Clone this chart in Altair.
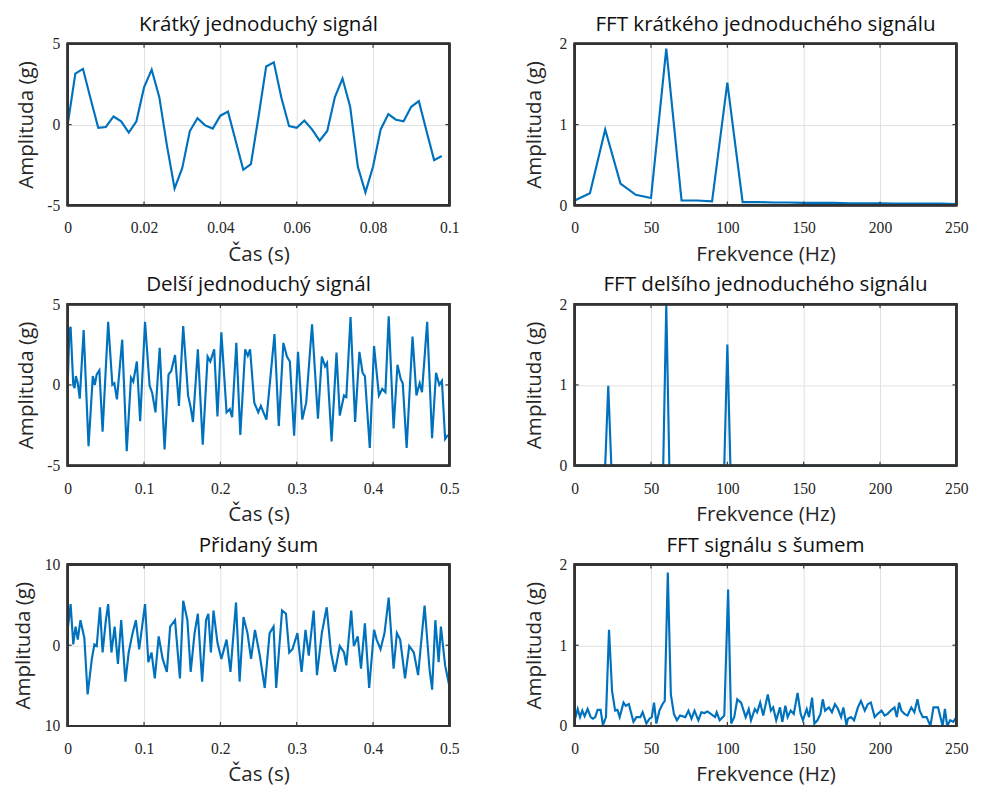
import altair as alt
import pandas as pd

# ---------- data ----------
# 1) short simple signal (0 .. 0.098 s, step 0.002 s)
t_short = [0.000, 0.002, 0.004, 0.006, 0.008, 0.010, 0.012, 0.014, 0.016, 0.018,
           0.020, 0.022, 0.024, 0.026, 0.028, 0.030, 0.032, 0.034, 0.036, 0.038,
           0.040, 0.042, 0.044, 0.046, 0.048, 0.050, 0.052, 0.054, 0.056, 0.058,
           0.060, 0.062, 0.064, 0.066, 0.068, 0.070, 0.072, 0.074, 0.076, 0.078,
           0.080, 0.082, 0.084, 0.086, 0.088, 0.090, 0.092, 0.094, 0.096, 0.098]
a_short = [0.0, 3.15, 3.45, 1.6, -0.2, -0.15, 0.5, 0.2, -0.5, 0.2,
           2.3, 3.4, 1.7, -1.3, -3.95, -2.7, -0.4, 0.4, -0.05, -0.25,
           0.55, 0.8, -1.0, -2.8, -2.45, 0.5, 3.6, 3.85, 1.65, -0.1,
           -0.2, 0.25, -0.3, -1.0, -0.4, 1.7, 2.85, 1.1, -2.6, -4.2,
           -2.6, -0.3, 0.65, 0.3, 0.2, 1.1, 1.45, -0.4, -2.2, -1.95]

# 2) FFT of the short signal (10 Hz bins)
f_short = [0, 10, 20, 30, 40, 50, 60, 70, 80, 90, 100, 110, 120, 130, 140, 150,
           160, 170, 180, 190, 200, 210, 220, 230, 240, 250]
m_short = [0.06, 0.15, 0.94, 0.27, 0.13, 0.09, 1.94, 0.06, 0.06, 0.05, 1.52, 0.04,
           0.04, 0.035, 0.035, 0.03, 0.03, 0.03, 0.025, 0.025, 0.025, 0.02, 0.02,
           0.02, 0.02, 0.015]

# 3) longer simple signal (vertices read off the trace)
t_long = [0.000, 0.0022, 0.0038, 0.0073, 0.0090, 0.0107, 0.0132, 0.0158, 0.0209, 0.0273,
          0.0329, 0.0355, 0.0380, 0.0415, 0.0457, 0.0530, 0.0585, 0.0611, 0.0645, 0.0714,
          0.0773, 0.0829, 0.0859, 0.0906, 0.0949, 0.1013, 0.1073, 0.1107, 0.1150, 0.1205,
          0.1269, 0.1321, 0.1355, 0.1406, 0.1457, 0.1513, 0.1577, 0.1611, 0.1641, 0.1705,
          0.1769, 0.1833, 0.1868, 0.1919, 0.1962, 0.2013, 0.2081, 0.2124, 0.2154, 0.2209,
          0.2261, 0.2325, 0.2359, 0.2389, 0.2444, 0.2496, 0.2530, 0.2603, 0.2709, 0.2765,
          0.2825, 0.2872, 0.2910, 0.2966, 0.3017, 0.3073, 0.3124, 0.3201, 0.3278, 0.3329,
          0.3372, 0.3397, 0.3457, 0.3521, 0.3564, 0.3620, 0.3650, 0.3705, 0.3765, 0.3821,
          0.3863, 0.3893, 0.3957, 0.4013, 0.4077, 0.4120, 0.4162, 0.4205, 0.4269, 0.4320,
          0.4363, 0.4389, 0.4440, 0.4517, 0.4568, 0.4611, 0.4641, 0.4709, 0.4773, 0.4825,
          0.4868, 0.4902, 0.4944, 0.4980]
a_long = [0.0, 3.4, 3.6, 0.0, -0.2, 0.55, 0.1, -0.85, 3.4, -3.8,
          0.55, 0.0, 0.65, 0.9, -2.9, 3.9, 0.0, 0.1, -0.9, 2.8,
          -4.1, 0.45, 0.2, 1.45, -2.25, 3.9, -0.05, -0.5, -1.7, 2.3,
          -4.0, 0.65, 0.85, 1.85, -1.3, 3.65, -0.65, -1.4, -2.3, 2.2,
          -3.7, 1.75, 1.45, 2.2, -1.95, 3.25, -1.7, -1.5, -2.0, 2.6,
          -3.1, 2.2, 1.8, 2.2, -1.1, -1.7, -1.3, -2.15, 3.15, -2.55,
          2.6, 1.75, 1.45, -3.15, 2.05, -2.15, -1.1, 3.75, -2.1, 1.75,
          1.15, 1.35, -3.5, 2.0, -1.9, -0.65, -0.75, 4.2, -2.3, 2.05,
          0.75, 0.55, -3.9, 2.4, -0.65, -0.25, -0.45, 4.25, -2.7, 1.25,
          0.35, 0.1, -3.9, 3.0, -0.65, 0.1, -0.45, 3.9, -3.3, 0.75,
          0.0, 0.25, -3.35, -3.1]

# 4) FFT of the longer signal (2 Hz bins, only non-zero neighbourhoods listed)
f_long = [0, 20, 22, 24, 58, 60, 62, 98, 100, 102, 250]
m_long = [0.0, 0.0, 0.99, 0.0, 0.0, 2.0, 0.0, 0.0, 1.5, 0.0, 0.0]

# 5) added noise (vertices read off the trace)
t_noise = [0.0000, 0.0038, 0.0073, 0.0103, 0.0132, 0.0167, 0.0218, 0.0261, 0.0316, 0.0350,
           0.0380, 0.0423, 0.0457, 0.0500, 0.0530, 0.0573, 0.0615, 0.0658, 0.0701, 0.0756,
           0.0799, 0.0850, 0.0893, 0.0936, 0.1013, 0.1056, 0.1098, 0.1141, 0.1192, 0.1244,
           0.1299, 0.1342, 0.1406, 0.1470, 0.1513, 0.1568, 0.1611, 0.1662, 0.1705, 0.1761,
           0.1812, 0.1842, 0.1876, 0.1910, 0.1962, 0.2013, 0.2081, 0.2132, 0.2205, 0.2252,
           0.2303, 0.2355, 0.2402, 0.2453, 0.2517, 0.2581, 0.2645, 0.2697, 0.2731, 0.2808,
           0.2859, 0.2902, 0.2944, 0.3009, 0.3064, 0.3115, 0.3158, 0.3222, 0.3265, 0.3329,
           0.3393, 0.3449, 0.3500, 0.3564, 0.3620, 0.3650, 0.3714, 0.3748, 0.3799, 0.3842,
           0.3893, 0.3949, 0.4013, 0.4047, 0.4098, 0.4150, 0.4205, 0.4269, 0.4312, 0.4355,
           0.4419, 0.4474, 0.4534, 0.4590, 0.4675, 0.4739, 0.4774, 0.4816, 0.4859, 0.4889,
           0.4944, 0.4996]
a_noise = [1.9, 5.1, 0.1, 2.3, 0.7, 3.1, 0.9, -6.1, -1.7, 0.1,
           -0.1, 4.7, -0.9, 3.1, 5.1, -0.9, 2.3, -2.3, 3.1, -4.5,
           -0.9, 1.5, 3.1, -0.5, 5.1, -2.1, -0.9, -4.1, 1.1, -1.7,
           -3.3, 2.3, 3.1, -4.1, 5.5, 3.1, -3.3, 1.5, 3.9, -4.5,
           3.1, 3.9, -0.9, 4.3, 0.3, -1.7, 0.7, -3.3, 5.3, -4.5,
           3.5, 1.5, -1.7, 1.9, -1.3, -5.3, 1.5, 2.3, -5.3, 4.3,
           3.9, -0.9, -0.5, 1.5, -3.3, 1.9, -1.3, 4.3, -3.7, 1.5,
           4.7, -0.9, -3.3, -0.1, -0.9, -2.5, 4.3, -0.1, 1.1, -2.9,
           2.7, -5.3, 1.9, 0.7, -0.5, 1.5, 5.9, -2.9, 1.5, 0.7,
           -4.1, -0.1, -0.9, -3.7, 4.9, -2.9, -5.5, 3.1, -2.1, 2.3,
           -2.5, -4.9]

# 6) FFT of the noisy signal
f_noise = [0, 2, 3.5, 5, 6.5, 8.5, 10.5, 12, 13.5, 15, 17, 18.5, 20.5, 22.5, 24.5, 26.5,
           28, 29.5, 32, 33.5, 35.5, 38.5, 40.5, 43, 44.5, 47, 49, 50.5, 52, 53.5, 55.5,
           57.5, 59, 61, 63, 65, 67, 69, 72.5, 74.5, 76.5, 78.5, 81, 83, 85, 87, 90.5,
           92, 93, 95, 98, 100.5, 102.5, 104.5, 106.5, 109, 112, 114, 115.5, 118, 119.5,
           121.5, 123.5, 126.5, 128.5, 130, 132, 134.5, 136, 138, 139.5, 141.5, 143.5,
           146, 148, 149.5, 152, 153.5, 155.5, 157, 159, 161, 162.5, 164, 166.5, 168.5,
           170.5, 172.5, 174.5, 176, 178, 179, 181, 183, 185.5, 187.5, 190, 192, 194,
           196.5, 198.5, 201, 203, 205, 207, 209.5, 211, 212.5, 214, 216, 218, 220.5,
           222.5, 224.5, 226, 228, 230.5, 233, 235, 238, 241, 242.5, 244, 246, 248, 250]
m_noise = [0.07, 0.21, 0.11, 0.19, 0.12, 0.21, 0.11, 0.09, 0.11, 0.2, 0.2, 0.01, 0.11,
           1.19, 0.43, 0.19, 0.2, 0.11, 0.29, 0.25, 0.27, 0.05, 0.11, 0.11, 0.17, 0.03,
           0.09, 0.11, 0.29, 0.03, 0.19, 0.27, 0.31, 1.9, 0.39, 0.15, 0.07, 0.13, 0.11,
           0.19, 0.09, 0.19, 0.07, 0.17, 0.16, 0.18, 0.13, 0.11, 0.17, 0.07, 0.13, 1.69,
           0.03, 0.11, 0.33, 0.29, 0.11, 0.21, 0.07, 0.21, 0.17, 0.29, 0.13, 0.39, 0.19,
           0.23, 0.07, 0.23, 0.05, 0.25, 0.11, 0.19, 0.15, 0.41, 0.15, 0.07, 0.21, 0.11,
           0.35, 0.03, 0.07, 0.15, 0.33, 0.19, 0.23, 0.17, 0.27, 0.21, 0.11, 0.23, 0.01,
           0.09, 0.11, 0.07, 0.23, 0.31, 0.19, 0.27, 0.29, 0.11, 0.15, 0.19, 0.13, 0.15,
           0.19, 0.23, 0.11, 0.29, 0.19, 0.15, 0.13, 0.23, 0.17, 0.33, 0.19, 0.11, 0.11,
           0.0, 0.23, 0.23, 0.0, 0.21, 0.0, 0.07, 0.05, 0.11]

# tick values
ticks_t_short = [0, 0.02, 0.04, 0.06, 0.08, 0.1]
ticks_t_long = [0, 0.1, 0.2, 0.3, 0.4, 0.5]
ticks_f = [0, 50, 100, 150, 200, 250]
ticks_a5 = [-5, 0, 5]
ticks_a10 = [-10, 0, 10]
ticks_fft = [0, 1, 2]

titles = ["Krátký jednoduchý signál", "FFT krátkého jednoduchého signálu",
          "Delší jednoduchý signál", "FFT delšího jednoduchého signálu",
          "Přidaný šum", "FFT signálu s šumem"]

W, H = 390, 165
BLUE = "#0072BD"
FRAME = "#333333"
TICK = 4


def panel(xs, ys, title, xdom, xticks, ydom, yticks, xtitle,
          ylabel_expr="toString(datum.value)", ytitle_pad=11):
    df = pd.DataFrame({"x": xs, "y": ys})
    xsc = alt.Scale(domain=xdom, nice=False, zero=False)
    ysc = alt.Scale(domain=ydom, nice=False, zero=False)
    xax = alt.Axis(values=xticks, title=xtitle, labelExpr="toString(datum.value)",
                   labelFlush=False)
    yax = alt.Axis(values=yticks, title="Amplituda (g)", labelExpr=ylabel_expr,
                   titlePadding=ytitle_pad)
    line = alt.Chart(df).mark_line(color=BLUE, strokeWidth=2.2, clip=True).encode(
        x=alt.X("x:Q", scale=xsc, axis=xax),
        y=alt.Y("y:Q", scale=ysc, axis=yax),
    )
    xt = pd.DataFrame({"v": xticks})
    yt = pd.DataFrame({"v": yticks})
    tx_bot = alt.Chart(xt).mark_rule(color=FRAME, strokeWidth=1.2).encode(
        x=alt.X("v:Q", scale=xsc), y=alt.value(H), y2=alt.value(H - TICK))
    tx_top = alt.Chart(xt).mark_rule(color=FRAME, strokeWidth=1.2).encode(
        x=alt.X("v:Q", scale=xsc), y=alt.value(0), y2=alt.value(TICK))
    ty_l = alt.Chart(yt).mark_rule(color=FRAME, strokeWidth=1.2).encode(
        y=alt.Y("v:Q", scale=ysc), x=alt.value(0), x2=alt.value(TICK))
    ty_r = alt.Chart(yt).mark_rule(color=FRAME, strokeWidth=1.2).encode(
        y=alt.Y("v:Q", scale=ysc), x=alt.value(W), x2=alt.value(W - TICK))
    frame = alt.Chart(xt).mark_rect(fill=None, filled=False, stroke=FRAME, strokeWidth=2).encode(
        x=alt.value(0), x2=alt.value(W), y=alt.value(0), y2=alt.value(H))
    return alt.layer(line, tx_bot, tx_top, ty_l, ty_r, frame).properties(
        width=W, height=H, title=title)


p1 = panel(t_short, a_short, titles[0], [0, 0.1], ticks_t_short, [-5, 5], ticks_a5, "Čas (s)")
p2 = panel(f_short, m_short, titles[1], [0, 250], ticks_f, [0, 2], ticks_fft, "Frekvence (Hz)",
           ytitle_pad=15)
p3 = panel(t_long, a_long, titles[2], [0, 0.5], ticks_t_long, [-5, 5], ticks_a5, "Čas (s)")
p4 = panel(f_long, m_long, titles[3], [0, 250], ticks_f, [0, 2], ticks_fft, "Frekvence (Hz)",
           ytitle_pad=15)
p5 = panel(t_noise, a_noise, titles[4], [0, 0.5], ticks_t_long, [-10, 10], ticks_a10, "Čas (s)",
           ylabel_expr="toString(abs(datum.value))")
p6 = panel(f_noise, m_noise, titles[5], [0, 250], ticks_f, [0, 2], ticks_fft, "Frekvence (Hz)",
           ytitle_pad=15)

col1 = alt.vconcat(p1, p3, p5, spacing=11)
col2 = alt.vconcat(p2, p4, p6, spacing=11)

chart = alt.hconcat(col1, col2, spacing=65).properties(
    padding={"left": 4, "top": -2, "right": 5, "bottom": 5}
).configure(
    background="white"
).configure_view(
    stroke="transparent", strokeWidth=0
).configure_axis(
    domain=False, ticks=False, grid=True, gridColor="#e0e0e0", gridWidth=1,
    labelFont="Liberation Serif", labelFontSize=16, labelColor="#262626",
    labelPadding=15,
    titleFont="Open Sans", titleFontSize=21, titleFontWeight="normal",
    titleColor="#262626", titlePadding=8,
).configure_axisY(
    labelPadding=8
).configure_title(
    font="Open Sans", fontSize=21, fontWeight="normal", color="#111111", offset=1
)

chart.save("out.html", embed_options={"renderer": "svg", "actions": False})
